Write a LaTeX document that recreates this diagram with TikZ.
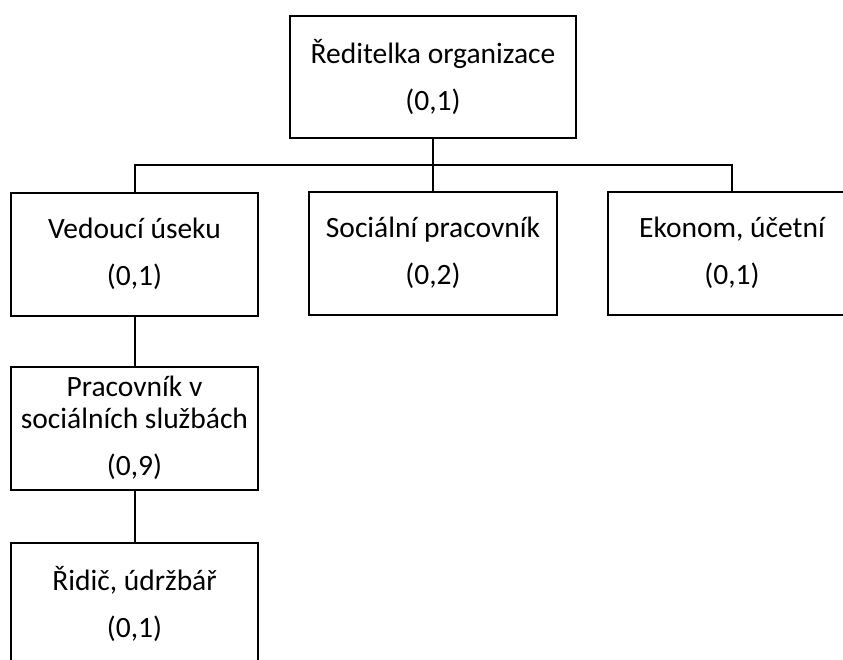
\documentclass[tikz,border=0pt]{standalone}
\usepackage{fontspec}
\setmainfont{Carlito}
\begin{document}
\begin{tikzpicture}[x=1pt,y=-1pt,
  unit/.style={draw=black, line width=2pt, rectangle, align=center,
    inner sep=0pt, minimum width=247pt, minimum height=123pt,
    font=\fontsize{29.5}{32}\selectfont},
  link/.style={draw=black, line width=2pt}]
  \useasboundingbox (0,0) rectangle (843,659);
  \clip (0,0) rectangle (843,659);

  % organisation chart units
  \node[unit, minimum width=286pt, minimum height=122pt] (head) at (433,77)
    {Ředitelka organizace\\[15pt](0,1)};
  \node[unit] (lead) at (134.5,254) {Vedoucí úseku\\[15pt](0,1)};
  \node[unit, minimum width=248pt] (social) at (433,253)
    {Sociální pracovník\\[15pt](0,2)};
  \node[unit, minimum width=248pt] (econ) at (732,253)
    {Ekonom, účetní\\[15pt](0,1)};
  \node[unit] (worker) at (134.5,428)
    {Pracovník v\\sociálních službách\\[15pt](0,9)};
  \node[unit] (driver) at (134.5,604) {Řidič, údržbář\\[15pt](0,1)};

  % connecting lines
  \coordinate (bus) at (433,165);
  \draw[link] (head.south) -- (bus);
  \draw[link] (lead.north) |- (bus) -| (econ.north);
  \draw[link] (social.north) -- (bus);
  \draw[link] (lead.south) -- (worker.north);
  \draw[link] (worker.south) -- (driver.north);
\end{tikzpicture}
\end{document}
